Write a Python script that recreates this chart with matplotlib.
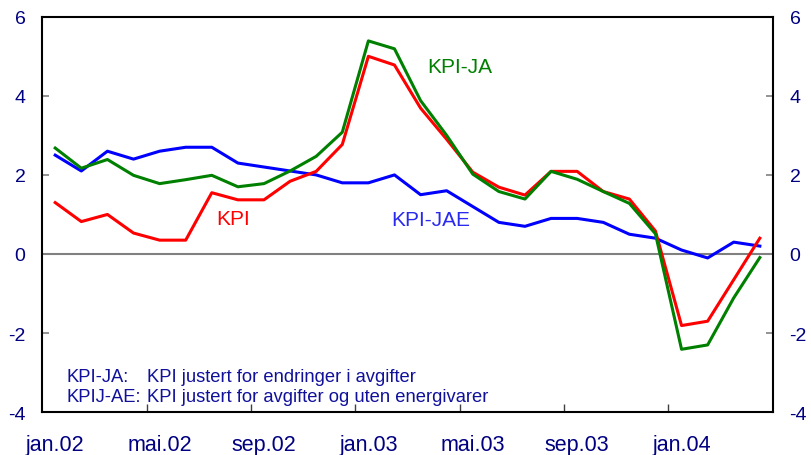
import matplotlib.pyplot as plt
import numpy as np

plt.rcParams['font.family'] = ['Liberation Sans', 'DejaVu Sans']
plt.rcParams['axes.unicode_minus'] = False

# months jan.02 .. apr.04
month_labels = ['jan.02', 'mai.02', 'sep.02', 'jan.03', 'mai.03', 'sep.03', 'jan.04']

kpi = [1.3, 0.82, 1.0, 0.53, 0.35, 0.35, 1.55, 1.37, 1.37, 1.84, 2.09, 2.77,
       5.0, 4.78, 3.69, 2.9, 2.07, 1.69, 1.49, 2.09, 2.09, 1.58, 1.39, 0.58,
       -1.81, -1.7, -0.65, 0.4]
kpi_ja = [2.68, 2.17, 2.39, 1.99, 1.78, 1.88, 1.99, 1.7, 1.78, 2.1, 2.47, 3.08,
          5.39, 5.19, 3.88, 3.0, 2.02, 1.58, 1.39, 2.09, 1.89, 1.58, 1.28, 0.51,
          -2.41, -2.3, -1.11, -0.09]
kpi_jae = [2.5, 2.1, 2.6, 2.4, 2.6, 2.7, 2.7, 2.3, 2.2, 2.1, 2.0, 1.8,
           1.8, 2.0, 1.5, 1.6, 1.2, 0.8, 0.7, 0.9, 0.9, 0.8, 0.5, 0.4,
           0.1, -0.1, 0.3, 0.2]

x = np.arange(len(kpi))

fig = plt.figure(figsize=(8.11, 4.56), dpi=100)
ax = fig.add_axes([0.052, 0.094, 0.901, 0.867])

ax.axhline(0, color='#808080', lw=1.5, zorder=1)
ax.plot(x, kpi_jae, color='#0000ff', lw=2.2, zorder=2)
ax.plot(x, kpi, color='#ff0000', lw=2.2, zorder=3)
ax.plot(x, kpi_ja, color='#008000', lw=2.2, zorder=4)

ax.text(6.8, 0.89, 'KPI', color='#ff0000', fontsize=15, ha='center', va='center')
ax.text(15.5, 4.75, 'KPI-JA', color='#008000', fontsize=15, ha='center', va='center')
ax.text(14.4, 0.87, 'KPI-JAE', color='#2a2aee', fontsize=15, ha='center', va='center')

navy = '#000080'
foot = '#10109a'
fs = 13.2
ax.text(0.45, -3.21, 'KPI-JA:', color=foot, fontsize=fs, va='baseline')
ax.text(3.5, -3.21, 'KPI justert for endringer i avgifter', color=foot, fontsize=fs, va='baseline')
ax.text(0.45, -3.73, 'KPIJ-AE:', color=foot, fontsize=fs, va='baseline')
ax.text(3.5, -3.73, 'KPI justert for avgifter og uten energivarer', color=foot, fontsize=fs, va='baseline')

ax.set_xlim(-0.5, 27.5)
ax.set_ylim(-4, 6)

ax.set_xticks(np.arange(0, 25, 4))
ax.set_xticklabels(month_labels)
ax.set_xticks(np.arange(3.5, 24, 4), minor=True)
ax.tick_params(axis='x', which='major', length=0, pad=16, labelsize=15.5, labelcolor=navy)
ax.tick_params(axis='x', which='minor', direction='in', length=6, color='#404040', width=1)

ax.set_yticks(np.arange(-4, 7, 2))
ax.tick_params(axis='y', which='major', direction='in', length=5, color='#808080', width=1.2,
               left=True, right=True, labelleft=True, labelright=True,
               labelsize=14, labelcolor=navy, pad=12)

for s in ax.spines.values():
    s.set_linewidth(1.5)
    s.set_color('black')

fig.savefig('out.png', dpi=100)
